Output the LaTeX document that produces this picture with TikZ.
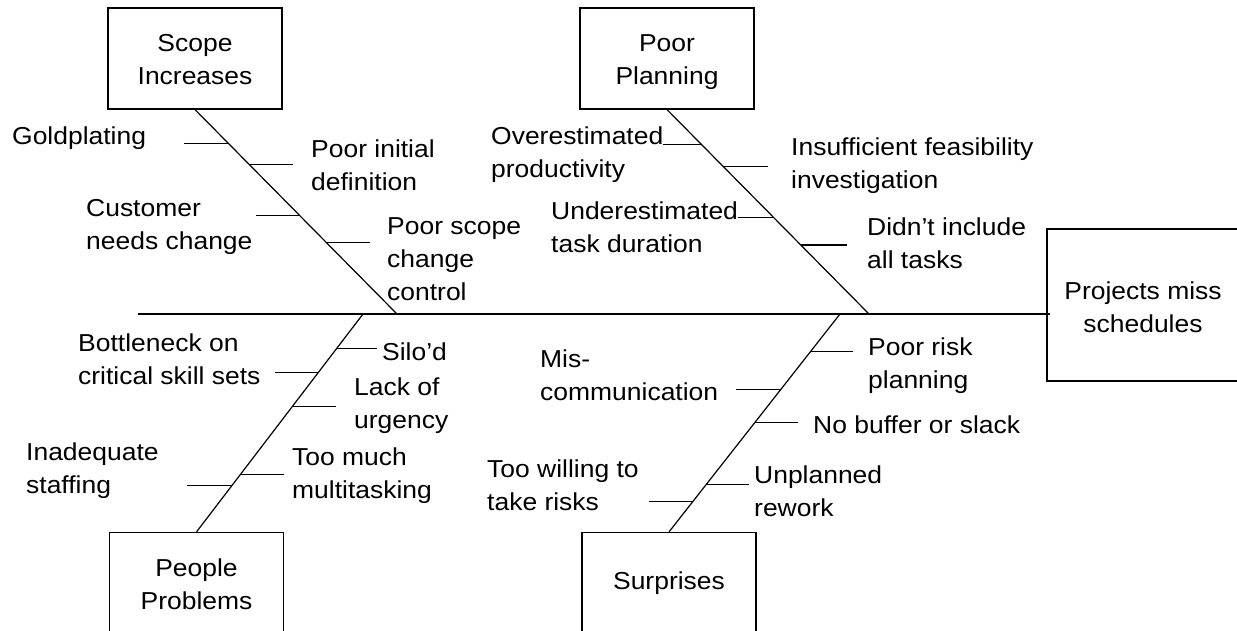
\documentclass[tikz,border=0pt]{standalone}
\usepackage{fontspec}
\setmainfont[FakeStretch=1.08]{Liberation Sans}
\newcommand{\topstrut}{\rule{0pt}{29pt}}
\begin{document}
\begin{tikzpicture}[x=1pt,y=-1pt,
  txt/.style={font=\fontsize{24.5}{33}\selectfont},
  catbox/.style={txt,draw,line width=1.2pt,minimum width=174pt,minimum height=101pt,inner sep=0pt,align=center},
  lbl/.style={txt,anchor=west,inner sep=0pt,align=left},
  bone/.style={line width=1.2pt},
  tick/.style={line width=1.2pt},
  spine/.style={line width=1.8pt}]
\useasboundingbox (0,0) rectangle (1237,630);
\fill[white] (0,0) rectangle (1237,630);
\clip (0,0) rectangle (1237,630);

% category boxes and effect
\node[catbox] (scope) at (195,58.5) {\topstrut Scope\\Increases\strut};
\node[catbox] (plan) at (667,58.5) {\topstrut Poor\\Planning\strut};
\node[catbox] (people) at (196.5,583) {\topstrut People\\Problems\strut};
\node[catbox] (surp) at (669,583) {Surprises\strut};
\node[txt,draw,line width=1.2pt,minimum width=192pt,minimum height=152pt,inner sep=0pt,align=center] (eff) at (1143,305) {\rule{0pt}{31pt}Projects miss\\schedules\strut};

% spine
\coordinate (tail) at (138,314);
\path (eff.west |- tail) coordinate (head);
\coordinate (j1) at (397,314);
\coordinate (j2) at (869,314);
\coordinate (j3) at (363,314);
\coordinate (j4) at (840,314);
\draw[spine] (tail) -- ([xshift=4pt]head);

% bones
\draw[bone] (scope.south) -- (j1);
\draw[bone] (plan.south) -- (j2);
\draw[bone] (j3) -- (people.north);
\draw[bone] (j4) -- (surp.north);

% points on bones
\path (scope.south) -- (j1) coordinate[pos=.167] (a1) coordinate[pos=.27] (a2) coordinate[pos=.52] (a3) coordinate[pos=.652] (a4);
\path (plan.south) -- (j2) coordinate[pos=.172] (b1) coordinate[pos=.279] (b2) coordinate[pos=.529] (b3) coordinate[pos=.662] (b4);
\path (j3) -- (people.north) coordinate[pos=.157] (c1) coordinate[pos=.269] (c2) coordinate[pos=.426] (c3) coordinate[pos=.736] (c4) coordinate[pos=.787] (c5);
\path (j4) -- (surp.north) coordinate[pos=.171] (d1) coordinate[pos=.346] (d2) coordinate[pos=.498] (d3) coordinate[pos=.783] (d4) coordinate[pos=.862] (d5);

% ticks
\draw[tick] (a1) -- ++(-45,0) coordinate (a1e);
\draw[tick] (a2) -- ++(43,0) coordinate (a2e);
\draw[tick] (a3) -- ++(-44,0) coordinate (a3e);
\draw[tick] (a4) -- ++(43,0) coordinate (a4e);
\draw[tick] (b1) -- ++(-39,0) coordinate (b1e);
\draw[tick] (b2) -- ++(45,0) coordinate (b2e);
\draw[tick] (b3) -- ++(-36,0) coordinate (b3e);
\draw[tick] (b4) -- ++(46,0) coordinate (b4e);
\draw[tick] (c1) -- ++(40,0) coordinate (c1e);
\draw[tick] (c2) -- ++(-43,0) coordinate (c2e);
\draw[tick] (c3) -- ++(44,0) coordinate (c3e);
\draw[tick] (c4) -- ++(44,0) coordinate (c4e);
\draw[tick] (c5) -- ++(-45,0) coordinate (c5e);
\draw[tick] (d1) -- ++(42,0) coordinate (d1e);
\draw[tick] (d2) -- ++(-45,0) coordinate (d2e);
\draw[tick] (d3) -- ++(43,0) coordinate (d3e);
\draw[tick] (d4) -- ++(43,0) coordinate (d4e);
\draw[tick] (d5) -- ++(-44,0) coordinate (d5e);

% labels
\node[lbl] (l1) at (12,138) {Goldplating};
\node[lbl] (l2) at (311,165) {Poor initial\\definition};
\node[lbl] (l3) at (86,226.5) {Customer\\needs change};
\node[lbl] (l4) at (387,259) {Poor scope\\change\\control};
\node[lbl] (l5) at (491,155) {Overestimated\\productivity};
\node[lbl] (l6) at (791,166) {Insufficient feasibility\\investigation};
\node[lbl] (l7) at (551,227.5) {Underestimated\\task duration};
\node[lbl] (l8) at (867,243) {Didn’t include\\all tasks};
\node[lbl] (l9) at (382,352) {Silo’d};
\node[lbl] (l10) at (78,359) {Bottleneck on\\critical skill sets};
\node[lbl] (l11) at (354,406) {Lack of\\urgency};
\node[lbl] (l12) at (292,476) {Too much\\multitasking};
\node[lbl] (l13) at (26,470.5) {Inadequate\\staffing};
\node[lbl] (l14) at (868,366) {Poor risk\\planning};
\node[lbl] (l15) at (540,375) {Mis-\\communication};
\node[lbl] (l16) at (813,425) {No buffer or slack};
\node[lbl] (l17) at (754,491.5) {Unplanned\\rework};
\node[lbl] (l18) at (487,485.5) {Too willing to\\take risks};
\end{tikzpicture}
\end{document}
